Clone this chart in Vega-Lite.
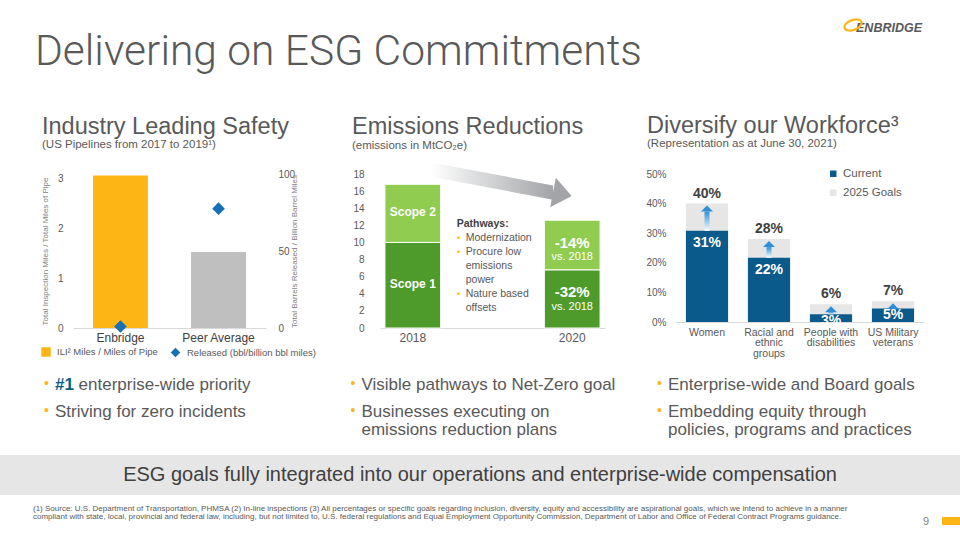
{
  "$schema": "https://vega.github.io/schema/vega-lite/v6.json",
  "background": "white",
  "padding": {"left": 0, "right": 0, "top": 8, "bottom": 0},
  "spacing": 0,
  "center": true,
  "resolve": {"scale": {"color": "independent", "shape": "independent", "opacity": "independent"}, "legend": {"color": "independent", "shape": "independent", "opacity": "independent"}},
  "config": {
    "font": "Liberation Sans",
    "view": {"stroke": null},
    "axis": {"grid": false, "ticks": false, "domain": false, "labelColor": "#595959", "titleColor": "#7f7f7f", "titleFontWeight": "normal", "labelFont": "Liberation Sans", "titleFont": "Liberation Sans", "labelOverlap": false},
    "legend": {"labelFont": "Liberation Sans", "labelColor": "#595959"},
    "title": {"font": "Liberation Sans", "subtitleFont": "Liberation Sans"},
    "text": {"font": "Liberation Sans"}
  },
  "vconcat": [
    {
      "width": 960,
      "height": 105,
      "data": {"values": [
        {"slot": "title", "text": "Delivering on ESG Commitments"},
        {"slot": "logo", "text": "ENBRIDGE"}
      ]},
      "encoding": {
        "x": {"field": "slot", "type": "nominal", "scale": {"type": "point", "padding": 0, "domain": ["title", "logo"], "range": [35, 922]}, "axis": null},
        "y": {"field": "slot", "type": "nominal", "scale": {"type": "point", "padding": 0, "domain": ["logo", "title"], "range": [24, 57]}, "axis": null}
      },
      "layer": [
        {"transform": [{"filter": "datum.slot === 'title'"}], "mark": {"type": "text", "align": "left", "baseline": "alphabetic", "font": "Roboto", "fontWeight": 300, "fontSize": 42.5, "color": "#595959"}, "encoding": {"text": {"field": "text"}}},
        {"transform": [{"filter": "datum.slot === 'logo'"}], "mark": {"type": "text", "align": "right", "baseline": "alphabetic", "fontWeight": "bold", "fontStyle": "italic", "fontSize": 12.5, "color": "#58595b"}, "encoding": {"text": {"field": "text"}}},
        {"transform": [{"filter": "datum.slot === 'logo'"}], "mark": {"type": "point", "shape": "M -1 0 A 1 0.55 0 1 1 1 0 A 1 0.55 0 1 1 -1 0 Z", "size": 324, "filled": false, "strokeWidth": 2.2, "opacity": 1, "color": "#FDB515", "angle": -20, "xOffset": -69, "yOffset": -7}}
      ]
    },
    {
      "spacing": 4,
      "resolve": {"scale": {"color": "independent", "shape": "independent", "opacity": "independent"}, "legend": {"color": "independent", "shape": "independent", "opacity": "independent"}},
      "hconcat": [
        {"width": 12, "height": 1, "data": {"values": []}, "mark": "point"},
        {
          "width": 193,
          "height": 154,
          "title": {"text": "Industry Leading Safety", "subtitle": "(US Pipelines from 2017 to 2019¹)", "anchor": "start", "frame": "group", "dx": -31, "fontSize": 23.5, "fontWeight": "normal", "color": "#595959", "subtitleFontSize": 11.5, "subtitleColor": "#595959", "subtitlePadding": 1, "offset": 18.2},
          "data": {"values": [
            {"company": "Enbridge", "ili": 3.05, "released": 1},
            {"company": "Peer Average", "ili": 1.52, "released": 77.5}
          ]},
          "encoding": {
            "x": {"field": "company", "type": "nominal", "sort": null, "scale": {"paddingInner": 0.44, "paddingOuter": 0.204},
              "axis": {"title": null, "labelAngle": 0, "labelFontSize": 12, "labelColor": "#404040", "labelPadding": 4, "domain": true, "domainColor": "#d9d9d9"}}
          },
          "layer": [
            {
              "mark": {"type": "bar"},
              "encoding": {
                "y": {"field": "ili", "type": "quantitative", "scale": {"domain": [0, 3.08]},
                  "axis": {"values": [0, 1, 2, 3], "labelFontSize": 10, "labelPadding": 10, "labelOverlap": false, "title": "Total Inspection Miles / Total Miles of Pipe", "titleFontSize": 8, "titlePadding": 8, "titleColor": "#7f7f7f"}},
                "color": {"field": "company", "type": "nominal", "scale": {"domain": ["Enbridge", "Peer Average"], "range": ["#FDB515", "#BFBFBF"]}, "legend": null},
                "opacity": {"datum": "ILI² Miles / Miles of Pipe", "type": "nominal", "scale": {"domain": ["ILI² Miles / Miles of Pipe"], "range": [1]},
                  "legend": {"orient": "none", "legendX": -37, "legendY": 168, "title": null, "labelFontSize": 9.5, "labelColor": "#595959", "symbolType": "square", "symbolSize": 90, "labelOffset": 6, "padding": 5, "symbolStrokeWidth": 0, "symbolFillColor": "#FDB515"}}
              }
            },
            {
              "mark": {"type": "point", "shape": "diamond", "filled": true, "size": 160, "opacity": 1},
              "encoding": {
                "y": {"field": "released", "type": "quantitative", "scale": {"domain": [0, 100]},
                  "axis": {"orient": "right", "values": [0, 50, 100], "labelFontSize": 10, "labelPadding": 12, "labelOverlap": false, "title": "Total Barrels Released / Billion Barrel Miles", "titleFontSize": 8, "titlePadding": 4, "titleAngle": 270, "titleColor": "#7f7f7f"}},
                "color": {"datum": "Released (bbl/billion bbl miles)", "type": "nominal",
                  "scale": {"domain": ["Released (bbl/billion bbl miles)"], "range": ["#1471b5"]},
                  "legend": {"orient": "none", "legendX": 92, "legendY": 168, "title": null, "labelFontSize": 9.5, "labelColor": "#595959", "symbolType": "diamond", "symbolSize": 90, "labelOffset": 6, "padding": 5}}
              }
            }
          ],
          "resolve": {"scale": {"y": "independent", "color": "independent"}}
        },
        {"width": 22.5, "height": 1, "data": {"values": []}, "mark": "point"},
        {
          "width": 225,
          "height": 154,
          "title": {"text": "Emissions Reductions", "subtitle": "(emissions in MtCO₂e)", "anchor": "start", "frame": "group", "dx": -28, "fontSize": 23.5, "fontWeight": "normal", "color": "#595959", "subtitleFontSize": 11.5, "subtitleColor": "#595959", "subtitlePadding": 1, "offset": 11.3},
          "layer": [
            {
              "data": {"values": [
                {"year": "2018", "scope": "Scope 1", "value": 10, "label": "Scope 1", "note": ""},
                {"year": "2018", "scope": "Scope 2", "value": 6.8, "label": "Scope 2", "note": ""},
                {"year": "2020", "scope": "Scope 1", "value": 6.8, "label": "-32%", "note": "vs. 2018"},
                {"year": "2020", "scope": "Scope 2", "value": 5.8, "label": "-14%", "note": "vs. 2018"}
              ]},
              "encoding": {
                "x": {"field": "year", "type": "nominal", "scale": {"domain": ["2018", "mid", "2020"], "paddingInner": 0.301, "paddingOuter": 0.062},
                  "axis": {"title": null, "labelAngle": 0, "labelFontSize": 12, "labelColor": "#595959", "labelPadding": 4, "domain": true, "domainColor": "#d9d9d9", "labelExpr": "datum.value === 'mid' ? '' : datum.value"}}
              },
              "layer": [
                {
                  "mark": {"type": "bar", "stroke": "white", "strokeWidth": 1},
                  "encoding": {
                    "y": {"field": "value", "type": "quantitative", "stack": "zero", "title": null, "scale": {"domain": [0, 18]},
                      "axis": {"values": [0, 2, 4, 6, 8, 10, 12, 14, 16, 18], "labelFontSize": 10, "labelPadding": 16, "labelOverlap": false, "title": null}},
                    "color": {"field": "scope", "type": "nominal", "scale": {"domain": ["Scope 1", "Scope 2"], "range": ["#4e9a2b", "#8fcc50"]}, "legend": null},
                    "order": {"field": "scope", "type": "nominal", "sort": "ascending"}
                  }
                },
                {
                  "transform": [
                    {"filter": "datum.year === '2018'"},
                    {"stack": "value", "groupby": ["year"], "sort": [{"field": "scope"}], "as": ["v0", "v1"]},
                    {"calculate": "(datum.v0 + datum.v1) / 2", "as": "vmid"}
                  ],
                  "mark": {"type": "text", "fontWeight": "bold", "fontSize": 12, "color": "white", "dy": -1},
                  "encoding": {"y": {"field": "vmid", "type": "quantitative", "title": null, "axis": {"values": [0, 2, 4, 6, 8, 10, 12, 14, 16, 18], "labelFontSize": 10, "labelPadding": 16, "labelOverlap": false, "title": null}}, "text": {"field": "label"}}
                },
                {
                  "transform": [
                    {"filter": "datum.year === '2020'"},
                    {"stack": "value", "groupby": ["year"], "sort": [{"field": "scope"}], "as": ["v0", "v1"]}
                  ],
                  "mark": {"type": "text", "fontWeight": "bold", "fontSize": 15, "color": "white", "dy": 22.5},
                  "encoding": {"y": {"field": "v1", "type": "quantitative", "title": null, "axis": {"values": [0, 2, 4, 6, 8, 10, 12, 14, 16, 18], "labelFontSize": 10, "labelPadding": 16, "labelOverlap": false, "title": null}}, "text": {"field": "label"}}
                },
                {
                  "transform": [
                    {"filter": "datum.year === '2020'"},
                    {"stack": "value", "groupby": ["year"], "sort": [{"field": "scope"}], "as": ["v0", "v1"]}
                  ],
                  "mark": {"type": "text", "fontSize": 11, "color": "white", "dy": 36.7},
                  "encoding": {"y": {"field": "v1", "type": "quantitative", "title": null, "axis": {"values": [0, 2, 4, 6, 8, 10, 12, 14, 16, 18], "labelFontSize": 10, "labelPadding": 16, "labelOverlap": false, "title": null}}, "text": {"field": "note"}}
                }
              ]
            },
            {
              "data": {"values": [
                {"line": 1, "kind": "head", "text": "Pathways:"},
                {"line": 2, "kind": "bullet", "text": "Modernization"},
                {"line": 3, "kind": "bullet", "text": "Procure low"},
                {"line": 4, "kind": "cont", "text": "emissions"},
                {"line": 5, "kind": "cont", "text": "power"},
                {"line": 6, "kind": "bullet", "text": "Nature based"},
                {"line": 7, "kind": "cont", "text": "offsets"}
              ]},
              "encoding": {
                "x": {"datum": "mid", "type": "nominal", "scale": {"domain": ["2018", "mid", "2020"], "paddingInner": 0.301, "paddingOuter": 0.062}, "axis": null},
                "y": {"field": "line", "type": "ordinal", "scale": {"type": "point", "padding": 0, "domain": [1, 2, 3, 4, 5, 6, 7], "range": [49.8, 134.2]}, "axis": null}
              },
              "layer": [
                {"transform": [{"filter": "datum.kind === 'head'"}], "mark": {"type": "text", "align": "left", "baseline": "middle", "fontWeight": "bold", "fontSize": 10.5, "color": "#404040", "dx": -35.8}, "encoding": {"text": {"field": "text"}}},
                {"transform": [{"filter": "datum.kind === 'bullet'"}], "mark": {"type": "text", "text": "•", "align": "left", "baseline": "middle", "fontSize": 9, "color": "#FDB515", "dx": -35.5}},
                {"transform": [{"filter": "datum.kind !== 'head'"}], "mark": {"type": "text", "align": "left", "baseline": "middle", "fontSize": 10.5, "color": "#595959", "dx": -26.8}, "encoding": {"text": {"field": "text"}}}
              ]
            },
            {
              "data": {"values": [{"t": 0}, {"t": 1}]},
              "encoding": {
                "x": {"field": "t", "type": "quantitative", "scale": {"domain": [0, 1], "range": [51, 173]}, "axis": null}
              },
              "layer": [
                {"mark": {"type": "area", "y2Offset": 14.25, "color": {"gradient": "linear", "x1": 0, "y1": 0, "x2": 1, "y2": 0, "stops": [{"offset": 0, "color": "#ffffff"}, {"offset": 1, "color": "#a2a4a7"}]}},
                 "encoding": {"y": {"field": "t", "type": "quantitative", "scale": {"domain": [0, 1], "range": [-11.6, 11.4]}, "axis": null}, "y2": {"field": "t"}}},
                {"transform": [{"filter": "datum.t === 1"}], "mark": {"type": "point", "shape": "M 0 -1 L 1.267 0 L 0 1 Z", "size": 900, "filled": true, "opacity": 1, "color": "#a2a4a7", "angle": 10.7, "yOffset": 7.1},
                 "encoding": {"y": {"field": "t", "type": "quantitative", "axis": null}}}
              ]
            }
          ],
          "resolve": {"scale": {"x": "independent", "y": "independent"}}
        },
        {"width": 32, "height": 1, "data": {"values": []}, "mark": "point"},
        {
          "width": 248,
          "height": 148,
          "title": {"text": "Diversify our Workforce³", "subtitle": "(Representation as at June 30, 2021)", "anchor": "start", "frame": "group", "dx": -29, "fontSize": 23.5, "fontWeight": "normal", "color": "#595959", "subtitleFontSize": 11.5, "subtitleColor": "#595959", "subtitlePadding": 1, "offset": 18.2},
          "data": {"values": [
            {"group": "Women", "current": 0.308, "goal": 0.40},
            {"group": "Racial and ethnic groups", "current": 0.217, "goal": 0.28},
            {"group": "People with disabilities", "current": 0.026, "goal": 0.06},
            {"group": "US Military veterans", "current": 0.046, "goal": 0.07}
          ]},
          "encoding": {
            "x": {"field": "group", "type": "nominal", "sort": null, "scale": {"paddingInner": 0.32, "paddingOuter": 0.16},
              "axis": {"title": null, "labelAngle": 0, "labelFontSize": 10.5, "labelColor": "#595959", "labelPadding": 5, "labelLineHeight": 10.5, "labelOverlap": false, "domain": true, "domainColor": "#d9d9d9",
                "labelExpr": "datum.value === 'Racial and ethnic groups' ? ['Racial and', 'ethnic', 'groups'] : datum.value === 'People with disabilities' ? ['People with', 'disabilities'] : datum.value === 'US Military veterans' ? ['US Military', 'veterans'] : datum.value"}}
          },
          "layer": [
            {
              "mark": {"type": "bar"},
              "encoding": {
                "y": {"field": "goal", "type": "quantitative", "title": null, "scale": {"domain": [0, 0.5]},
                  "axis": {"values": [0, 0.1, 0.2, 0.3, 0.4, 0.5], "format": ".0%", "labelFontSize": 10, "labelPadding": 10, "labelOverlap": false, "title": null}},
                "color": {"datum": "2025 Goals", "type": "nominal", "scale": {"domain": ["Current", "2025 Goals"], "range": ["#0b5a8c", "#e6e6e6"]},
                  "legend": {"orient": "none", "legendX": 151.5, "legendY": -6, "direction": "vertical", "title": null, "labelFontSize": 11.5, "labelColor": "#595959", "symbolType": "square", "symbolSize": 42, "labelOffset": 4, "rowPadding": 6}}
              }
            },
            {
              "mark": {"type": "bar"},
              "encoding": {
                "y": {"field": "current", "type": "quantitative", "title": null, "axis": {"values": [0, 0.1, 0.2, 0.3, 0.4, 0.5], "format": ".0%", "labelFontSize": 10, "labelPadding": 10, "labelOverlap": false, "title": null}},
                "color": {"datum": "Current", "type": "nominal"}
              }
            },
            {
              "mark": {"type": "bar", "width": 5, "y2Offset": 8, "color": {"gradient": "linear", "x1": 0, "y1": 1, "x2": 0, "y2": 0, "stops": [{"offset": 0, "color": "#ffffff"}, {"offset": 1, "color": "#2e8fd6"}]}},
              "encoding": {
                "y": {"field": "current", "type": "quantitative", "title": null, "axis": {"values": [0, 0.1, 0.2, 0.3, 0.4, 0.5], "format": ".0%", "labelFontSize": 10, "labelPadding": 10, "labelOverlap": false, "title": null}},
                "y2": {"field": "goal"}
              }
            },
            {
              "mark": {"type": "point", "shape": "M -1 1 L 0 0 L 1 1 Z", "size": 144, "filled": true, "opacity": 1, "color": "#2e8fd6", "yOffset": 2},
              "encoding": {"y": {"field": "goal", "type": "quantitative", "title": null, "axis": {"values": [0, 0.1, 0.2, 0.3, 0.4, 0.5], "format": ".0%", "labelFontSize": 10, "labelPadding": 10, "labelOverlap": false, "title": null}}}
            },
            {
              "mark": {"type": "text", "dy": -10, "fontWeight": "bold", "fontSize": 14, "color": "#404040"},
              "encoding": {"y": {"field": "goal", "type": "quantitative", "title": null, "axis": {"values": [0, 0.1, 0.2, 0.3, 0.4, 0.5], "format": ".0%", "labelFontSize": 10, "labelPadding": 10, "labelOverlap": false, "title": null}}, "text": {"field": "goal", "type": "quantitative", "format": ".0%"}}
            },
            {
              "transform": [{"filter": "datum.current >= 0.1"}],
              "mark": {"type": "text", "dy": 12.5, "fontWeight": "bold", "fontSize": 14, "color": "white"},
              "encoding": {"y": {"field": "current", "type": "quantitative", "title": null, "axis": {"values": [0, 0.1, 0.2, 0.3, 0.4, 0.5], "format": ".0%", "labelFontSize": 10, "labelPadding": 10, "labelOverlap": false, "title": null}}, "text": {"field": "current", "type": "quantitative", "format": ".0%"}}
            },
            {
              "transform": [{"filter": "datum.current < 0.1"}],
              "mark": {"type": "text", "dy": 6.5, "fontWeight": "bold", "fontSize": 14, "color": "white"},
              "encoding": {"y": {"field": "current", "type": "quantitative", "title": null, "axis": {"values": [0, 0.1, 0.2, 0.3, 0.4, 0.5], "format": ".0%", "labelFontSize": 10, "labelPadding": 10, "labelOverlap": false, "title": null}}, "text": {"field": "current", "type": "quantitative", "format": ".0%"}}
            }
          ]
        },
        {"width": 12, "height": 1, "data": {"values": []}, "mark": "point"}
      ]
    },
    {
      "width": 960,
      "height": 92,
      "data": {"values": [
        {"col": "Safety", "item": 1, "lead": "#1", "text": "enterprise-wide priority"},
        {"col": "Safety", "item": 2, "text": "Striving for zero incidents"},
        {"col": "Emissions", "item": 1, "text": "Visible pathways to Net-Zero goal"},
        {"col": "Emissions", "item": 2, "text": ["Businesses executing on", "emissions reduction plans"]},
        {"col": "Workforce", "item": 1, "text": "Enterprise-wide and Board goals"},
        {"col": "Workforce", "item": 2, "text": ["Embedding equity through", "policies, programs and practices"]}
      ]},
      "encoding": {
        "x": {"field": "col", "type": "nominal", "scale": {"type": "point", "padding": 0, "domain": ["Safety", "Emissions", "Workforce"], "range": [55, 668]}, "axis": null},
        "y": {"field": "item", "type": "quantitative", "scale": {"domain": [-0.04, 3.44], "reverse": true, "nice": false, "zero": false}, "axis": null}
      },
      "layer": [
        {"mark": {"type": "text", "text": "•", "align": "left", "baseline": "alphabetic", "fontSize": 14, "color": "#FDB515", "dx": -11, "dy": -2}},
        {"transform": [{"filter": "!datum.lead"}], "mark": {"type": "text", "align": "left", "baseline": "alphabetic", "fontSize": 17, "lineHeight": 18.5, "color": "#595959"}, "encoding": {"text": {"field": "text"}}},
        {"transform": [{"filter": "datum.lead"}], "mark": {"type": "text", "align": "left", "baseline": "alphabetic", "fontSize": 17, "fontWeight": "bold", "color": "#0b5a8c"}, "encoding": {"text": {"field": "lead"}}},
        {"transform": [{"filter": "datum.lead"}], "mark": {"type": "text", "align": "left", "baseline": "alphabetic", "fontSize": 17, "color": "#595959", "dx": 23.6}, "encoding": {"text": {"field": "text"}}}
      ]
    },
    {
      "width": 960,
      "height": 40,
      "view": {"fill": "#e7e6e6", "stroke": null},
      "data": {"values": [{"slot": "band", "text": "ESG goals fully integrated into our operations and enterprise-wide compensation"}]},
      "mark": {"type": "text", "fontSize": 20, "color": "#404040", "baseline": "middle", "align": "center"},
      "encoding": {
        "x": {"field": "slot", "type": "nominal", "scale": {"type": "point", "padding": 0}, "axis": null},
        "y": {"field": "slot", "type": "nominal", "scale": {"type": "point", "padding": 0}, "axis": null},
        "text": {"field": "text"}
      }
    },
    {
      "width": 960,
      "height": 40,
      "data": {"values": [
        {"slot": "note", "text": ["(1) Source: U.S. Department of Transportation, PHMSA (2) In-line inspections (3) All percentages or specific goals regarding inclusion, diversity, equity and accessibility are aspirational goals, which we intend to achieve in a manner", "compliant with state, local, provincial and federal law, including, but not limited to, U.S. federal regulations and Equal Employment Opportunity Commission, Department of Labor and Office of Federal Contract Programs guidance."]},
        {"slot": "page", "text": "9"}
      ]},
      "encoding": {
        "x": {"field": "slot", "type": "nominal", "scale": {"type": "point", "padding": 0, "domain": ["note", "page"], "range": [33, 929]}, "axis": null},
        "y": {"field": "slot", "type": "nominal", "scale": {"type": "point", "padding": 0, "domain": ["note", "page"], "range": [16, 30]}, "axis": null}
      },
      "layer": [
        {"transform": [{"filter": "datum.slot === 'note'"}], "mark": {"type": "text", "align": "left", "baseline": "alphabetic", "fontSize": 8, "lineHeight": 8, "color": "#595959"}, "encoding": {"text": {"field": "text"}}},
        {"transform": [{"filter": "datum.slot === 'page'"}], "mark": {"type": "text", "align": "right", "baseline": "alphabetic", "fontSize": 11, "color": "#7f7f7f"}, "encoding": {"text": {"field": "text"}}},
        {"transform": [{"filter": "datum.slot === 'page'"}], "mark": {"type": "point", "shape": "M -1 -0.45 L 1 -0.45 L 1 0.45 L -1 0.45 Z", "size": 324, "filled": true, "opacity": 1, "color": "#FDB515", "xOffset": 22, "yOffset": -4}}
      ]
    }
  ]
}
